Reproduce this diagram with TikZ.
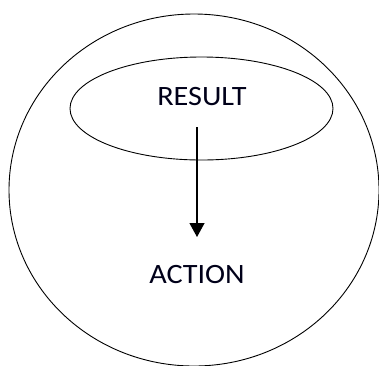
\documentclass[tikz,border=0pt]{standalone}
\usepackage{fontspec}
\setmainfont{Carlito}
\usetikzlibrary{arrows.meta,shapes.geometric,positioning}
\tikzset{
	loop diagram/.style={
		x=1pt, y=-1pt,
		line width=0.9pt},
	ring/.style={draw, ellipse, inner sep=0pt},
	word/.style={font=\fontsize{28}{31}\selectfont, text=black!90!blue, inner sep=0pt, xscale=1.08},
	ar/.style={line width=1.2pt, -{Triangle[width=15pt,length=14pt]}}
}

\begin{document}
\begin{tikzpicture}[loop diagram]
   \useasboundingbox (0,0) rectangle (379,365);
   \node[ring, minimum width=370pt, minimum height=352pt] (world) at (194,190) {};
   \node[ring, minimum width=263pt, minimum height=103pt] (inner) at (201.5,108.5) {};
   \node[word] (result) at (202,97) {RESULT};
   \node[word] (action) at (197,274) {ACTION};
   \coordinate (from) at (197,127);
   \coordinate (to) at (197,237);
   \draw[ar] (from) -- (to);
\end{tikzpicture}
\end{document}
